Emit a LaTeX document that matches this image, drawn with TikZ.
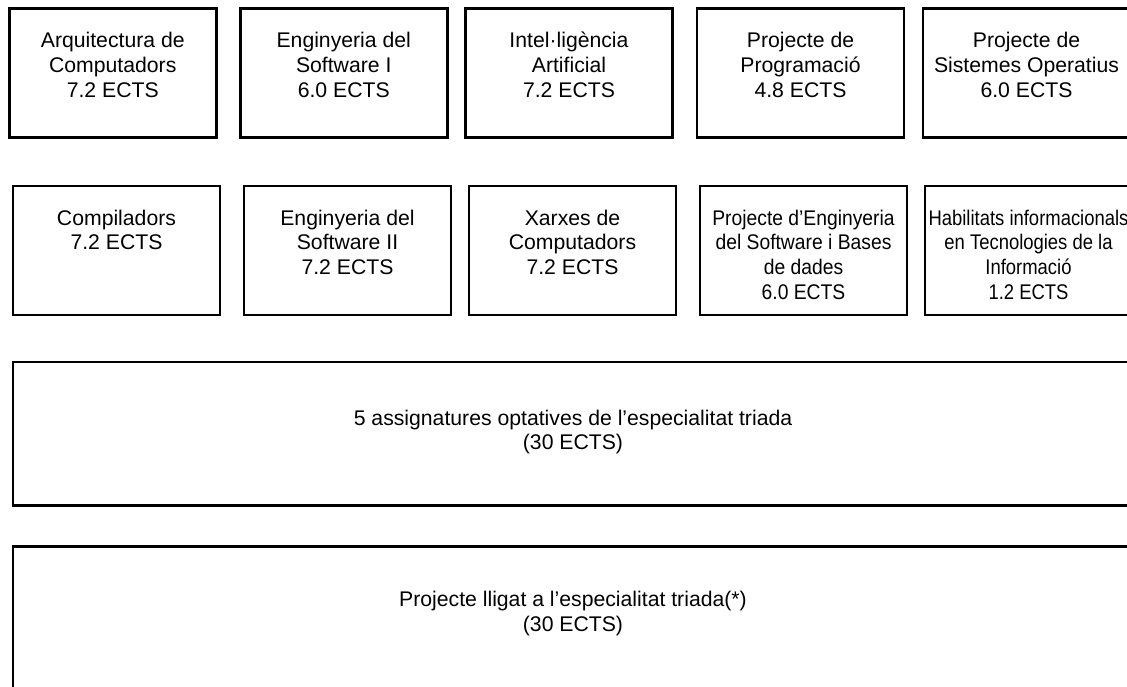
\documentclass[tikz,border=0pt]{standalone}
\usepackage{fontspec}
\setmainfont{Liberation Sans}
\usepackage{graphicx}
\usetikzlibrary{positioning}

% text lines of a box, optionally squeezed sideways
\newcommand{\linies}[2]{\scalebox{#1}[1]{\begin{tabular}[t]{@{}c@{}}#2\end{tabular}}}

\tikzset{
  caixa/.style={draw=black, line width=2.05pt, minimum width=155.25pt, minimum height=96.75pt, inner sep=0pt},
  caixagran/.style={caixa, minimum width=840pt, minimum height=107.5pt},
  rotul/.style={anchor=base, inner sep=0pt, font=\fontsize{15.9pt}{18.4pt}\selectfont, yshift=-30.6pt}
}

\begin{document}
\begin{tikzpicture}[x=0.75pt,y=-0.75pt]
	\useasboundingbox (0,0) rectangle (1127,686);

	% first row
	\node[caixa] (A1) at (112.75,73) {};
	\node[caixa] (A2) at (343.75,73) {};
	\node[caixa] (A3) at (569,73) {};
	\node[caixa] (A4) at (800.5,73) {};
	\node[caixa] (A5) at (1026.5,73) {};
	\node[rotul] (A1t) at (A1.north) {\linies{1}{Arquitectura de\\Computadors\\7.2 ECTS}};
	\node[rotul] (A2t) at (A2.north) {\linies{1}{Enginyeria del\\Software I\\6.0 ECTS}};
	\node[rotul] (A3t) at (A3.north) {\linies{1}{Intel·ligència\\Artificial\\7.2 ECTS}};
	\node[rotul] (A4t) at (A4.north) {\linies{1}{Projecte de\\Programació\\4.8 ECTS}};
	\node[rotul] (A5t) at (A5.north) {\linies{1}{Projecte de\\Sistemes Operatius\\6.0 ECTS}};

	% second row
	\node[caixa] (B1) at (116.5,250.5) {};
	\node[caixa] (B2) at (347.5,250.5) {};
	\node[caixa] (B3) at (572.5,250.5) {};
	\node[caixa] (B4) at (803.5,250.5) {};
	\node[caixa] (B5) at (1028.5,250.5) {};
	\node[rotul] (B1t) at (B1.north) {\linies{1}{Compiladors\\7.2 ECTS}};
	\node[rotul] (B2t) at (B2.north) {\linies{1}{Enginyeria del\\Software II\\7.2 ECTS}};
	\node[rotul] (B3t) at (B3.north) {\linies{1}{Xarxes de\\Computadors\\7.2 ECTS}};
	\node[rotul] (B4t) at (B4.north) {\linies{0.91}{Projecte d’Enginyeria\\del Software i Bases\\de dades\\6.0 ECTS}};
	\node[rotul] (B5t) at (B5.north) {\linies{0.87}{Habilitats informacionals\\en Tecnologies de la\\Informació\\1.2 ECTS}};

	% wide boxes
	\node[caixagran] (C) at (573,433.7) {};
	\node[caixagran] (D) at (573,618.4) {};
	\node[rotul, yshift=-17.8pt] (Ct) at (C.north) {\linies{1}{5 assignatures optatives de l’especialitat triada\\(30 ECTS)}};
	\node[rotul, yshift=-15.6pt] (Dt) at (D.north) {\linies{1}{Projecte lligat a l’especialitat triada(*)\\(30 ECTS)}};
\end{tikzpicture}
\end{document}
